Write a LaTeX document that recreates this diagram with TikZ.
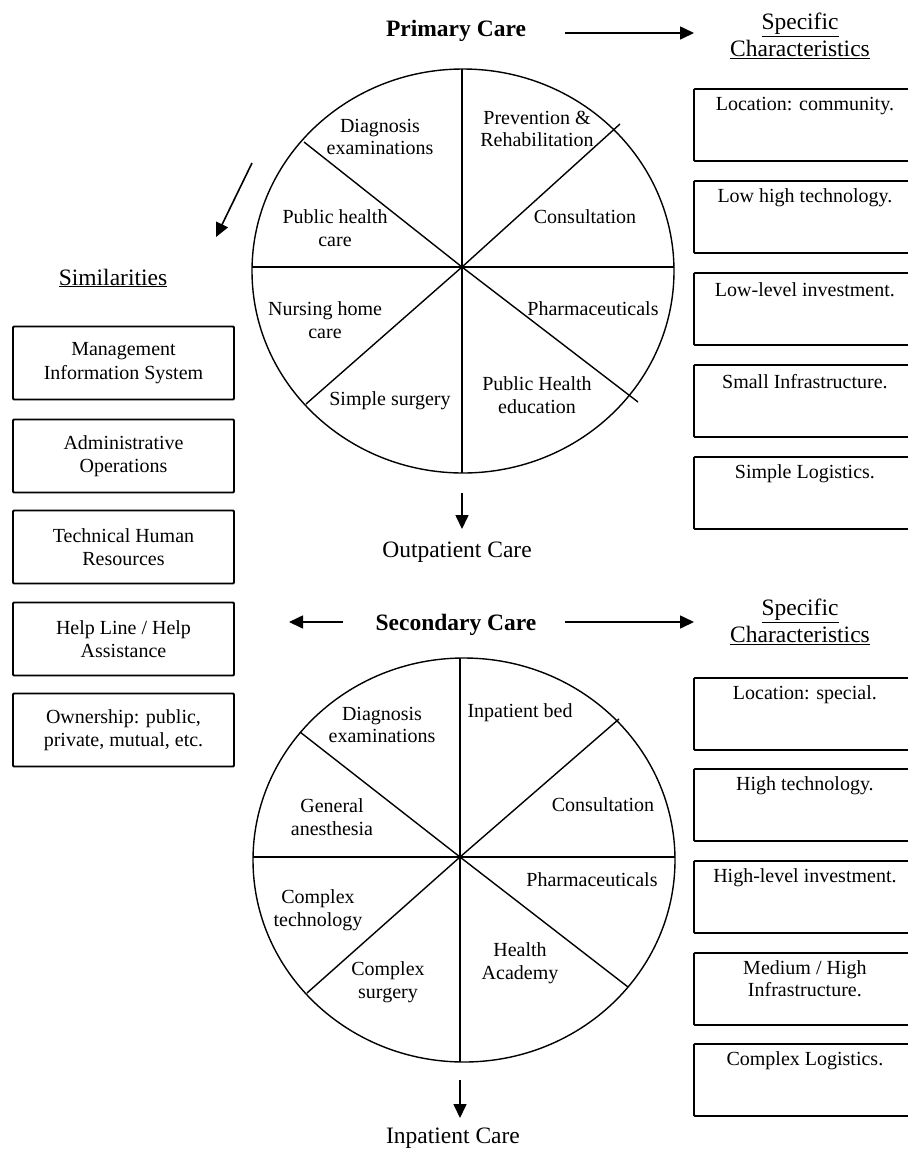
\documentclass[tikz,border=0pt]{standalone}
\usepackage{fontspec}
\setmainfont{Liberation Serif}
\usetikzlibrary{arrows.meta,calc}
\begin{document}
\begin{tikzpicture}[x=1pt,y=-1pt,
  lbl/.style={font=\fontsize{20}{22.5}\selectfont, align=center, inner sep=0pt},
  head/.style={font=\fontsize{23.5}{28}\selectfont, align=center, inner sep=0pt},
  ttl/.style={font=\bfseries\fontsize{23.5}{28}\selectfont, inner sep=0pt},
  lbox/.style={draw, line width=1.8pt, rounded corners=1pt, minimum width=221pt, minimum height=73pt,
               font=\fontsize{20}{23.5}\selectfont, align=center, inner sep=0pt},
  rbox/.style={draw, line width=1.8pt, rounded corners=1pt, minimum width=222pt, minimum height=72pt, inner sep=0pt},
  arr/.style={line width=1.6pt, -{Triangle[length=14pt,width=13pt]}},
  pie/.style={line width=1.4pt}]
\useasboundingbox (0,0) rectangle (908,1152);
\clip (0,0) rectangle (908,1152);

% ---------- Primary care wheel ----------
\coordinate (h1) at (462,267);
\draw[pie] (463,271) ellipse [x radius=211, y radius=202];
\draw[pie] (462,69) -- (462,473);
\draw[pie] (252,267) -- (674,267);
\draw[pie] (h1) -- (304,142);
\draw[pie] (h1) -- (620,124);
\draw[pie] (h1) -- (306,404);
\draw[pie] (h1) -- (638,402);

\node[lbl] (p-diag) at (380,137) {Diagnosis\\examinations};
\node[lbl] (p-prev) at (537,129) {Prevention \&\\Rehabilitation};
\node[lbl] (p-phc)  at (335,228) {Public health\\care};
\node[lbl] (p-cons) at (585,217) {Consultation};
\node[lbl] (p-nurs) at (325,320) {Nursing home\\care};
\node[lbl] (p-phar) at (593,309) {Pharmaceuticals};
\node[lbl] (p-surg) at (390,401) {Simple surgery};
\node[lbl] (p-edu)  at (537,395) {Public Health\\education};

\node[ttl] (pc) at (456,31) {Primary Care};
\node[head] (spec1) at (800,36) {\underline{Specific}\\[-1pt]\underline{Characteristics}};
\node[head] (outp) at (457,552) {Outpatient Care};

\coordinate (a1s) at (565,33);
\coordinate (a1e) at (694,33);
\draw[arr] (a1s) -- (a1e);
\coordinate (a2s) at (462,493);
\coordinate (a2e) at (462,529);
\draw[arr] (a2s) -- (a2e);
\coordinate (a3s) at (252,163);
\coordinate (a3e) at (216,237);
\draw[arr] (a3s) -- (a3e);

% characteristics of primary care
\foreach \t/\txt [count=\i] in {88/{Location: community.},180/{Low high technology.},272/{Low-level investment.},364/{Small Infrastructure.},456/{Simple Logistics.}}{
  \node[rbox, anchor=north west] (pb\i) at (693,\t) {};
  \node[lbl, anchor=center] (pt\i) at ($(pb\i.north)+(0,18)$) {\txt};
}

% ---------- Similarities ----------
\node[head] (sim) at (113,278) {\underline{Similarities}};
\node[lbox] (s1) at (123.5,363) {Management\\Information System};
\node[lbox] (s2) at (123.5,456) {Administrative\\Operations};
\node[lbox] (s3) at (123.5,547) {Technical Human\\Resources};
\node[lbox] (s4) at (123.5,639) {Help Line / Help\\Assistance};
\node[lbox] (s5) at (123.5,730) {Ownership: public,\\private, mutual, etc.};

% ---------- Secondary care wheel ----------
\coordinate (h2) at (460,857);
\draw[pie] (464,860) ellipse [x radius=211, y radius=202];
\draw[pie] (460,658) -- (460,1062);
\draw[pie] (253,857) -- (675,857);
\draw[pie] (h2) -- (300,732);
\draw[pie] (h2) -- (619,719);
\draw[pie] (h2) -- (307,993);
\draw[pie] (h2) -- (628,987);

\node[lbl] (s-diag) at (382,725) {Diagnosis\\examinations};
\node[lbl] (s-bed)  at (520,713) {Inpatient bed};
\node[lbl] (s-anes) at (332,817) {General\\anesthesia};
\node[lbl] (s-cons) at (603,805) {Consultation};
\node[lbl] (s-tech) at (318,910) {Complex\\technology};
\node[lbl] (s-phar) at (592,880) {Pharmaceuticals};
\node[lbl] (s-surg) at (388,982) {Complex\\surgery};
\node[lbl] (s-acad) at (520,963) {Health\\Academy};

\node[ttl] (sc) at (456,625) {Secondary Care};
\node[head] (spec2) at (800,622) {\underline{Specific}\\[-1pt]\underline{Characteristics}};
\node[head] (inp) at (453,1138) {Inpatient Care};

\coordinate (b1s) at (565,622);
\coordinate (b1e) at (694,622);
\draw[arr] (b1s) -- (b1e);
\coordinate (b2s) at (343,622);
\coordinate (b2e) at (289,622);
\draw[arr] (b2s) -- (b2e);
\coordinate (b3s) at (460,1080);
\coordinate (b3e) at (460,1118);
\draw[arr] (b3s) -- (b3e);

% characteristics of secondary care
\foreach \t/\txt [count=\i] in {677/{Location: special.},768/{High technology.},860/{High-level investment.},1043/{Complex Logistics.}}{
  \node[rbox, anchor=north west] (qb\i) at (693,\t) {};
  \node[lbl, anchor=center] (qt\i) at ($(qb\i.north)+(0,18)$) {\txt};
}
\node[rbox, anchor=north west] (qb5) at (693,952) {};
\node[lbl, anchor=north] (qt5) at ($(qb5.north)+(0,8)$) {Medium / High\\Infrastructure.};
\end{tikzpicture}
\end{document}
